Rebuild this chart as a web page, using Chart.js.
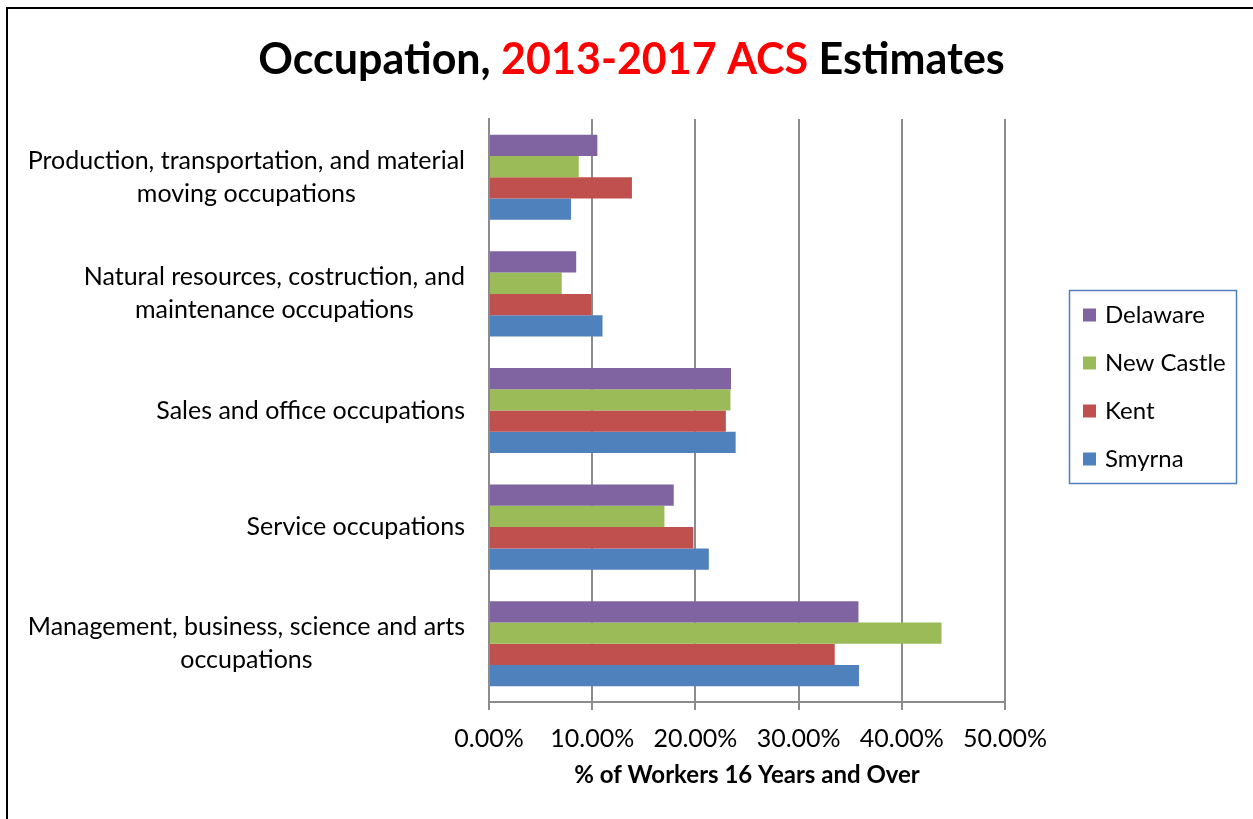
<!DOCTYPE html>
<html>
<head>
<meta charset="utf-8">
<script src="https://cdn.jsdelivr.net/npm/chart.js@4/dist/chart.umd.min.js"></script>
<style>
  html, body { margin: 0; padding: 0; background: #ffffff; }
  #wrap { position: relative; width: 1253px; height: 819px; }
</style>
</head>
<body>
<div id="wrap"><canvas id="c" width="1253" height="819"></canvas></div>
<script>
// ---- Data ----
const categories = [
  ["Production, transportation, and material", "moving occupations"],
  ["Natural resources, costruction, and", "maintenance occupations"],
  ["Sales and office occupations"],
  ["Service occupations"],
  ["Management, business, science and arts", "occupations"]
];
const seriesNames = ["Delaware", "New Castle", "Kent", "Smyrna"];
const delaware  = [10.5, 8.45, 23.45, 17.9, 35.8];
const newCastle = [8.7, 7.05, 23.4, 17.0, 43.85];
const kent      = [13.85, 9.9, 22.95, 19.8, 33.5];
const smyrna    = [7.95, 11.0, 23.9, 21.3, 35.85];
const xTicks = [0, 10, 20, 30, 40, 50];
const titleParts = [["Occupation, ", "#000000"], ["2013-2017 ACS", "#ff0000"], [" Estimates", "#000000"]];
const xAxisTitle = "% of Workers 16 Years and Over";

const colors = ["#8064a2", "#9bbb59", "#c0504d", "#4f81bd"];
const FONT = "Lato, 'Open Sans', sans-serif";
const GRID = "#8c8c8c";

const seriesValues = [delaware, newCastle, kent, smyrna];

const framePlugin = {
  id: 'frame',
  afterDraw(chart) {
    const ctx = chart.ctx;
    ctx.save();
    ctx.fillStyle = "#000";
    ctx.fillRect(6, 7, 2, 812);
    ctx.fillRect(6, 7, 1247, 2);
    // Title
    ctx.font = "bold 43px " + FONT;
    ctx.textBaseline = "alphabetic";
    ctx.textAlign = "left";
    let total = 0;
    titleParts.forEach(p => total += ctx.measureText(p[0]).width);
    let x = 631.5 - total / 2;
    titleParts.forEach(p => {
      ctx.fillStyle = p[1];
      ctx.fillText(p[0], x, 74);
      x += ctx.measureText(p[0]).width;
    });
    // Category labels
    const ys = chart.scales.y;
    ctx.font = "25px " + FONT;
    ctx.fillStyle = "#000";
    ctx.textAlign = "center";
    ctx.textBaseline = "middle";
    const lh = 33;
    categories.forEach((lines, i) => {
      const cy = ys.getPixelForValue(i);
      let w = 0;
      lines.forEach(l => w = Math.max(w, ctx.measureText(l).width));
      const cx = 465 - w / 2;
      lines.forEach((l, k) => {
        ctx.fillText(l, cx, cy + (k - (lines.length - 1) / 2) * lh);
      });
    });
    // Legend
    ctx.font = "24px " + FONT;
    ctx.strokeStyle = "#4f81bd";
    ctx.lineWidth = 1.5;
    ctx.strokeRect(1069.5, 290.5, 167, 193);
    ctx.textAlign = "left";
    chart.data.datasets.forEach((ds, i) => {
      const cy = 315 + i * 48;
      ctx.fillStyle = ds.backgroundColor;
      ctx.fillRect(1083, cy - 6.5, 13, 13);
      ctx.fillStyle = "#000";
      ctx.fillText(ds.label, 1105, cy);
    });
    ctx.restore();
  }
};

new Chart(document.getElementById('c'), {
  type: 'bar',
  data: {
    labels: categories.map(l => l.join(' ')),
    datasets: seriesNames.map((n, i) => ({
      label: n,
      data: seriesValues[i],
      backgroundColor: colors[i],
      borderWidth: 0,
      categoryPercentage: 0.73,
      barPercentage: 1.0
    }))
  },
  options: {
    indexAxis: 'y',
    responsive: false,
    animation: false,
    devicePixelRatio: 1,
    layout: { padding: { left: 0, top: 119, right: 248, bottom: 0 } },
    plugins: {
      legend: { display: false },
      tooltip: { enabled: false },
      title: { display: false }
    },
    scales: {
      x: {
        min: 0, max: 50,
        afterBuildTicks(scale) { scale.ticks = xTicks.map(v => ({ value: v })); },
        afterFit(scale) { scale.height = 117; },
        ticks: {
          callback: v => v.toFixed(2) + '%',
          font: { family: FONT, size: 25 },
          color: '#000',
          padding: 14,
          maxRotation: 0
        },
        grid: { color: GRID, lineWidth: 2, tickLength: 8, tickColor: GRID },
        border: { display: true, color: GRID, width: 2 },
        title: {
          display: true,
          text: xAxisTitle,
          font: { family: FONT, size: 24, weight: 'bold' },
          color: '#000',
          padding: { top: 0, bottom: 29 }
        }
      },
      y: {
        afterFit(scale) { scale.width = 489; },
        ticks: { display: false },
        grid: { display: false },
        border: { display: true, color: GRID, width: 2 }
      }
    }
  },
  plugins: [framePlugin]
});
</script>
</body>
</html>
